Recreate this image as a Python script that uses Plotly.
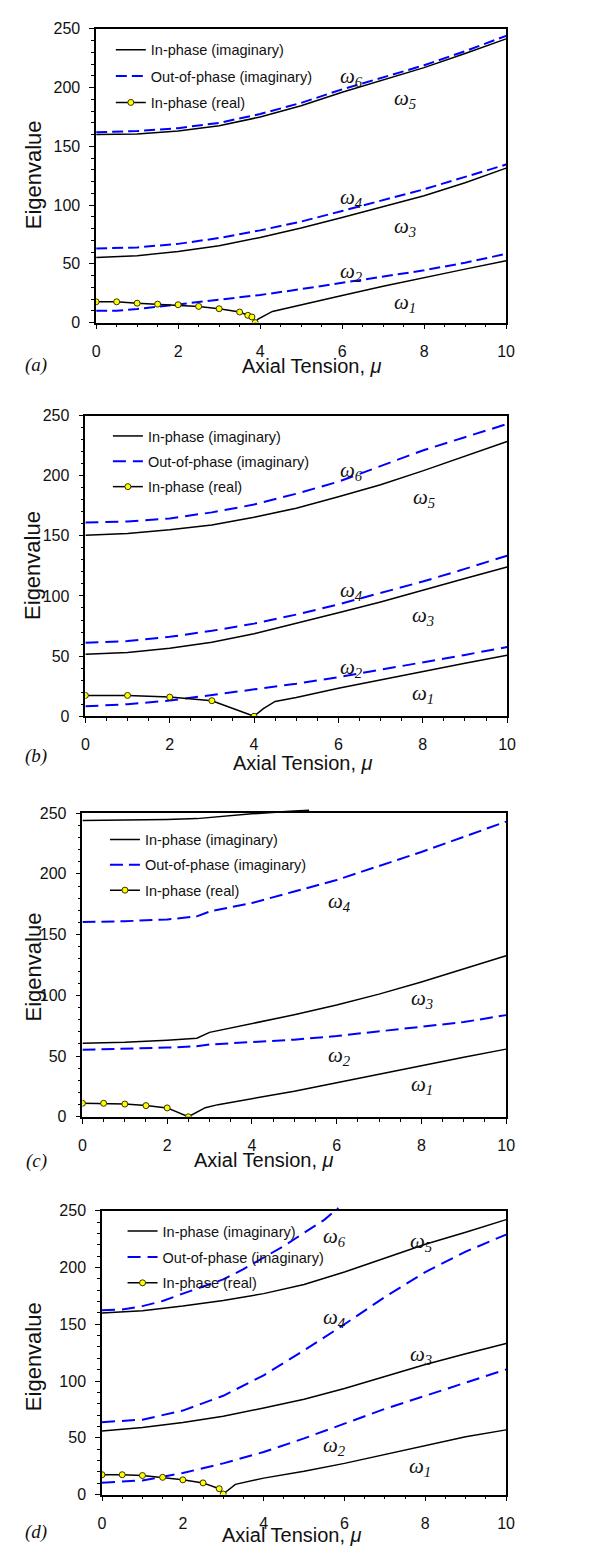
import plotly.graph_objects as go

W, H = 603, 1549
BLACK = "#000000"
BLUE = "#0000ff"
YEL = "#ffff00"
SANS = "Liberation Sans, Arial, sans-serif"
SERIF = "Liberation Serif, Times New Roman, serif"

MU = [0, 1, 2, 3, 4, 5, 6, 7, 8, 9, 10]
X_TICKS = [0, 2, 4, 6, 8, 10]
Y_TICKS = [0, 50, 100, 150, 200, 250]
LEGEND_NAMES = ["In-phase (imaginary)", "Out-of-phase (imaginary)", "In-phase (real)"]

# ---------------- panel (a) ----------------
a_w6 = [162, 163, 165.5, 170, 177.5, 187, 198.5, 208.5, 219, 231, 244]
a_w5 = [160, 160.5, 163, 167.5, 175, 184.5, 196, 206.5, 217, 229, 241.5]
a_w4 = [63, 64, 67, 72, 78.5, 86, 95, 104, 113.5, 124, 134.5]
a_w3 = [55.5, 57, 60.5, 65.5, 72.5, 80.5, 89.5, 98.5, 108, 119, 131.5]
a_w2_x = [0, 0.5, 1, 1.5, 2, 2.5, 3, 3.5, 4, 5, 6, 7, 8, 9, 10]
a_w2 = [10, 10, 11.5, 13.5, 15.5, 17, 19.5, 21.5, 23.5, 28.5, 34, 39, 44.5, 51, 58.5]
a_re_x = [0, 0.5, 1, 1.5, 2, 2.5, 3, 3.5, 3.7, 3.8, 3.88]
a_re = [17.7, 17.7, 16.5, 15.7, 15.2, 13.8, 11.8, 9.0, 6.2, 4.8, 0]
a_w1_x = [3.88, 3.95, 4.3, 5, 5.5, 6, 7, 8, 9, 10]
a_w1 = [0, 3, 9.5, 14.8, 19, 23, 31, 38.5, 45.5, 52.7]

# ---------------- panel (b) ----------------
b_w6 = [161, 162, 164.5, 169.5, 176, 185, 195, 208, 221, 232, 243]
b_w5 = [150.5, 152, 155, 159, 165.5, 173, 182.5, 192.5, 204, 216, 228.5]
b_w4 = [61, 62.5, 66, 71, 77, 84.5, 93, 102.5, 112, 122.5, 133.5]
b_w3 = [51.5, 53, 56.5, 61.5, 68.5, 77, 86, 95, 105, 114.5, 124]
b_w2 = [8.2, 10, 13, 17.5, 22, 27, 32.5, 38.5, 44.5, 51, 57.5]
b_re_x = [0, 1, 2, 3, 4]
b_re = [17.3, 17.3, 15.9, 12.9, 0]
b_w1_x = [4, 4.22, 4.5, 5, 6, 7, 8, 9, 10]
b_w1 = [0, 6.3, 12.3, 15.6, 23.3, 30.2, 37.6, 44, 50.7]

# ---------------- panel (c) ----------------
c_top_x = [0, 1, 2, 2.7, 3, 4, 5, 5.35]
c_top = [244, 244.3, 244.8, 245.5, 246.5, 249.5, 251.8, 252.3]
c_x = [0, 1, 2, 2.7, 3, 4, 5, 6, 7, 8, 9, 10]
c_w4 = [160.3, 161, 162.5, 165, 169, 176, 185.5, 195, 206.5, 218, 230.5, 243]
c_w3 = [60.6, 61.3, 63, 64.7, 69.5, 76.5, 84, 92, 101, 111, 122, 132.6]
c_w2 = [55.2, 56, 57, 58, 59.5, 61.5, 63.5, 66.5, 70.5, 74, 78, 83.7]
c_re_x = [0, 0.5, 1, 1.5, 2, 2.5]
c_re = [11.1, 11.1, 10.5, 9.2, 7.3, 0]
c_w1_x = [2.5, 2.9, 3.2, 4, 5, 6, 7, 8, 9, 10]
c_w1 = [0, 7.5, 10, 15, 21, 28, 35, 42.5, 49, 55.7]

# ---------------- panel (d) ----------------
d_w6_x = [0, 0.5, 1, 1.5, 2, 2.5, 3, 3.5, 4, 4.5, 5, 5.5, 5.85]
d_w6 = [162.4, 163, 166, 170.5, 177, 183, 189.5, 198.5, 208.5, 219, 230.5, 242, 252.5]
d_w5 = [160, 162, 166, 171, 177, 185, 196, 208, 220.5, 231, 242.2]
d_w4 = [63.8, 66, 74, 87, 105, 127, 150, 174, 196, 214, 229]
d_w3 = [56, 59, 63.5, 69, 76.3, 84, 93.5, 104, 114.5, 124, 133]
d_w2 = [10.5, 12.5, 19, 27.5, 37.5, 49.5, 62.5, 75.5, 87, 98.5, 110.2]
d_re_x = [0, 0.5, 1, 1.5, 2, 2.5, 2.9, 3.0]
d_re = [17.5, 17.5, 16.8, 15.2, 13, 10.3, 5.2, 0.5]
d_w1_x = [3.0, 3.3, 4, 5, 6, 7, 8, 9, 10]
d_w1 = [0.5, 9, 14.5, 20.5, 27.5, 35.5, 43.5, 51, 57]

# omega labels (text, x, y) per panel
a_lab = [("6", 6.23, 209), ("5", 7.54, 190), ("4", 6.23, 106), ("3", 7.54, 81), ("2", 6.23, 43), ("1", 7.54, 16.5)]
b_lab = [("6", 6.3, 204), ("5", 8.02, 181.5), ("4", 6.3, 104), ("3", 8.0, 83.5), ("2", 6.3, 40.5), ("1", 8.0, 18.5)]
c_lab = [("4", 6.07, 176.5), ("3", 8.02, 97), ("2", 6.07, 50), ("1", 8.02, 26.5)]
d_lab = [("6", 5.76, 226.5), ("5", 7.9, 222.5), ("4", 5.76, 155.5), ("3", 7.9, 123), ("2", 5.76, 42.5), ("1", 7.88, 24)]

# panel frames in pixels: left, right, top, bottom
panels = [
    dict(tag="(a)", box=(86, 505, 13, 310), dash="11px,5px",
         leg=(101, 18, 4.5), xt=(307, 354), yt=161, pl=353,
         w1=(a_w1_x, a_w1), w2=(a_w2_x, a_w2), re=(a_re_x, a_re),
         dashed=[(MU, a_w6), (MU, a_w4)], solid=[(MU, a_w5), (MU, a_w3)],
         ext=None, labels=a_lab),
    dict(tag="(b)", box=(75, 506, 404, 708), dash="13px,7px",
         leg=(98, 408.5, 3.5), xt=(297, 755), yt=556, pl=748,
         w1=(b_w1_x, b_w1), w2=(MU, b_w2), re=(b_re_x, b_re),
         dashed=[(MU, b_w6), (MU, b_w4)], solid=[(MU, b_w5), (MU, b_w3)],
         ext=None, labels=b_lab),
    dict(tag="(c)", box=(72, 505, 806, 1113), dash="13px,6px",
         leg=(95, 816.5, 3.5), xt=(258, 1157), yt=962, pl=1158,
         w1=(c_w1_x, c_w1), w2=(c_x, c_w2), re=(c_re_x, c_re),
         dashed=[(c_x, c_w4)], solid=[(c_x, c_w3)],
         ext=("solid", c_top_x, c_top), labels=c_lab),
    dict(tag="(d)", box=(92, 505, 1208, 1495), dash="13px,7px",
         leg=(113, 1212.5, 4), xt=(286, 1536), yt=1356, pl=1533,
         w1=(d_w1_x, d_w1), w2=(MU, d_w2), re=(d_re_x, d_re),
         dashed=[(MU, d_w4)], solid=[(MU, d_w5), (MU, d_w3)],
         ext=("dash", d_w6_x, d_w6), labels=d_lab),
]

fig = go.Figure()
layout = dict(width=W, height=H, autosize=False,
              margin=dict(l=0, r=0, t=0, b=0),
              paper_bgcolor="white", plot_bgcolor="rgba(0,0,0,0)",
              font=dict(family=SANS, color="#111111"),
              showlegend=True)
annotations = []

for i, p in enumerate(panels):
    n = i + 1
    xa = "x" if n == 1 else f"x{n}"
    ya = "y" if n == 1 else f"y{n}"
    lg = "legend" if n == 1 else f"legend{n}"
    L, R, T, B = p["box"]
    ppu = (B - T) / 250.0

    def sc(x, y, dash=None, name=None, show=False, mode="lines", yaxis=ya, group=None):
        line = dict(color=BLUE if dash else BLACK, width=2 if dash else 1.5)
        if dash:
            line["dash"] = dash
        kw = dict(x=x, y=y, mode=mode, line=line, xaxis=xa, yaxis=yaxis,
                  showlegend=show, legend=lg, hoverinfo="skip")
        if name:
            kw["name"] = name
        if group:
            kw["legendgroup"] = group
        if "markers" in mode:
            kw["marker"] = dict(color=YEL, size=6, line=dict(color="#333300", width=1))
        return go.Scatter(**kw)

    # legend traces first (in legend order)
    fig.add_trace(sc(p["w1"][0], p["w1"][1], name=LEGEND_NAMES[0], show=True, group=f"g{n}a"))
    fig.add_trace(sc(p["w2"][0], p["w2"][1], dash=p["dash"], name=LEGEND_NAMES[1], show=True, group=f"g{n}b"))
    for xs, ys in p["dashed"]:
        fig.add_trace(sc(xs, ys, dash=p["dash"]))
    for xs, ys in p["solid"]:
        fig.add_trace(sc(xs, ys))
    if p["ext"] is not None:
        kind, ex, ey = p["ext"]
        yext = f"y{n + 4}"
        extra_px = 9
        layout[f"yaxis{n + 4}"] = dict(domain=[1 - B / H, 1 - (T - extra_px) / H],
                                       range=[0, 250 + extra_px / ppu], visible=False,
                                       anchor=xa, fixedrange=True)
        fig.add_trace(sc(ex, ey, dash=p["dash"] if kind == "dash" else None, yaxis=yext))
    fig.add_trace(sc(p["re"][0], p["re"][1], name=LEGEND_NAMES[2], show=True,
                     mode="lines+markers", group=f"g{n}c"))

    axis_common = dict(showline=True, linecolor=BLACK, linewidth=1.5, mirror=True,
                       showgrid=False, zeroline=False, ticks="outside", ticklen=5,
                       tickwidth=1, tickcolor=BLACK,
                       tickfont=dict(family=SANS, size=16, color="#111111"),
                       fixedrange=True)
    layout["xaxis" if n == 1 else f"xaxis{n}"] = dict(
        axis_common, domain=[L / W, R / W], range=[0, 10], anchor=ya,
        tickvals=X_TICKS, ticklabelstandoff=8,
        minor=dict(dtick=0.5, ticks="outside", ticklen=3, tickcolor=BLACK))
    layout["yaxis" if n == 1 else f"yaxis{n}"] = dict(
        axis_common, domain=[1 - B / H, 1 - T / H], range=[0, 250], anchor=xa,
        tickvals=Y_TICKS, ticklabelstandoff=6,
        minor=dict(dtick=10, ticks="outside", ticklen=3, tickcolor=BLACK))

    lx, ltop, gap = p["leg"]
    layout[lg] = dict(x=lx / W, y=1 - ltop / H, xanchor="left", yanchor="top",
                      bgcolor="rgba(0,0,0,0)", borderwidth=0, traceorder="grouped",
                      tracegroupgap=gap, itemwidth=30,
                      font=dict(family=SANS, size=14.5, color="#111111"))

    # axis titles and panel tag
    xtx, xty = p["xt"]
    annotations.append(dict(text="Axial Tension, <i>μ</i>", x=xtx / W, y=1 - xty / H,
                            xref="paper", yref="paper", showarrow=False,
                            xanchor="center", yanchor="middle",
                            font=dict(family=SANS, size=20, color="#111111")))
    annotations.append(dict(text="Eigenvalue", x=21.5 / W, y=1 - p["yt"] / H,
                            xref="paper", yref="paper", showarrow=False, textangle=-90,
                            xanchor="center", yanchor="middle",
                            font=dict(family=SANS, size=22, color="#111111")))
    annotations.append(dict(text=f"<i>{p['tag']}</i>", x=25 / W, y=1 - p["pl"] / H,
                            xref="paper", yref="paper", showarrow=False,
                            xanchor="center", yanchor="middle",
                            font=dict(family=SERIF, size=19, color="#111111")))
    for sub, lxv, lyv in p["labels"]:
        annotations.append(dict(text=f"<i>ω<sub>{sub}</sub></i>", x=lxv, y=lyv,
                                xref=xa, yref=ya, showarrow=False,
                                xanchor="center", yanchor="middle",
                                font=dict(family=SERIF, size=21, color="#111111")))

layout["annotations"] = annotations
fig.update_layout(**layout)
fig.write_html("out.html")
